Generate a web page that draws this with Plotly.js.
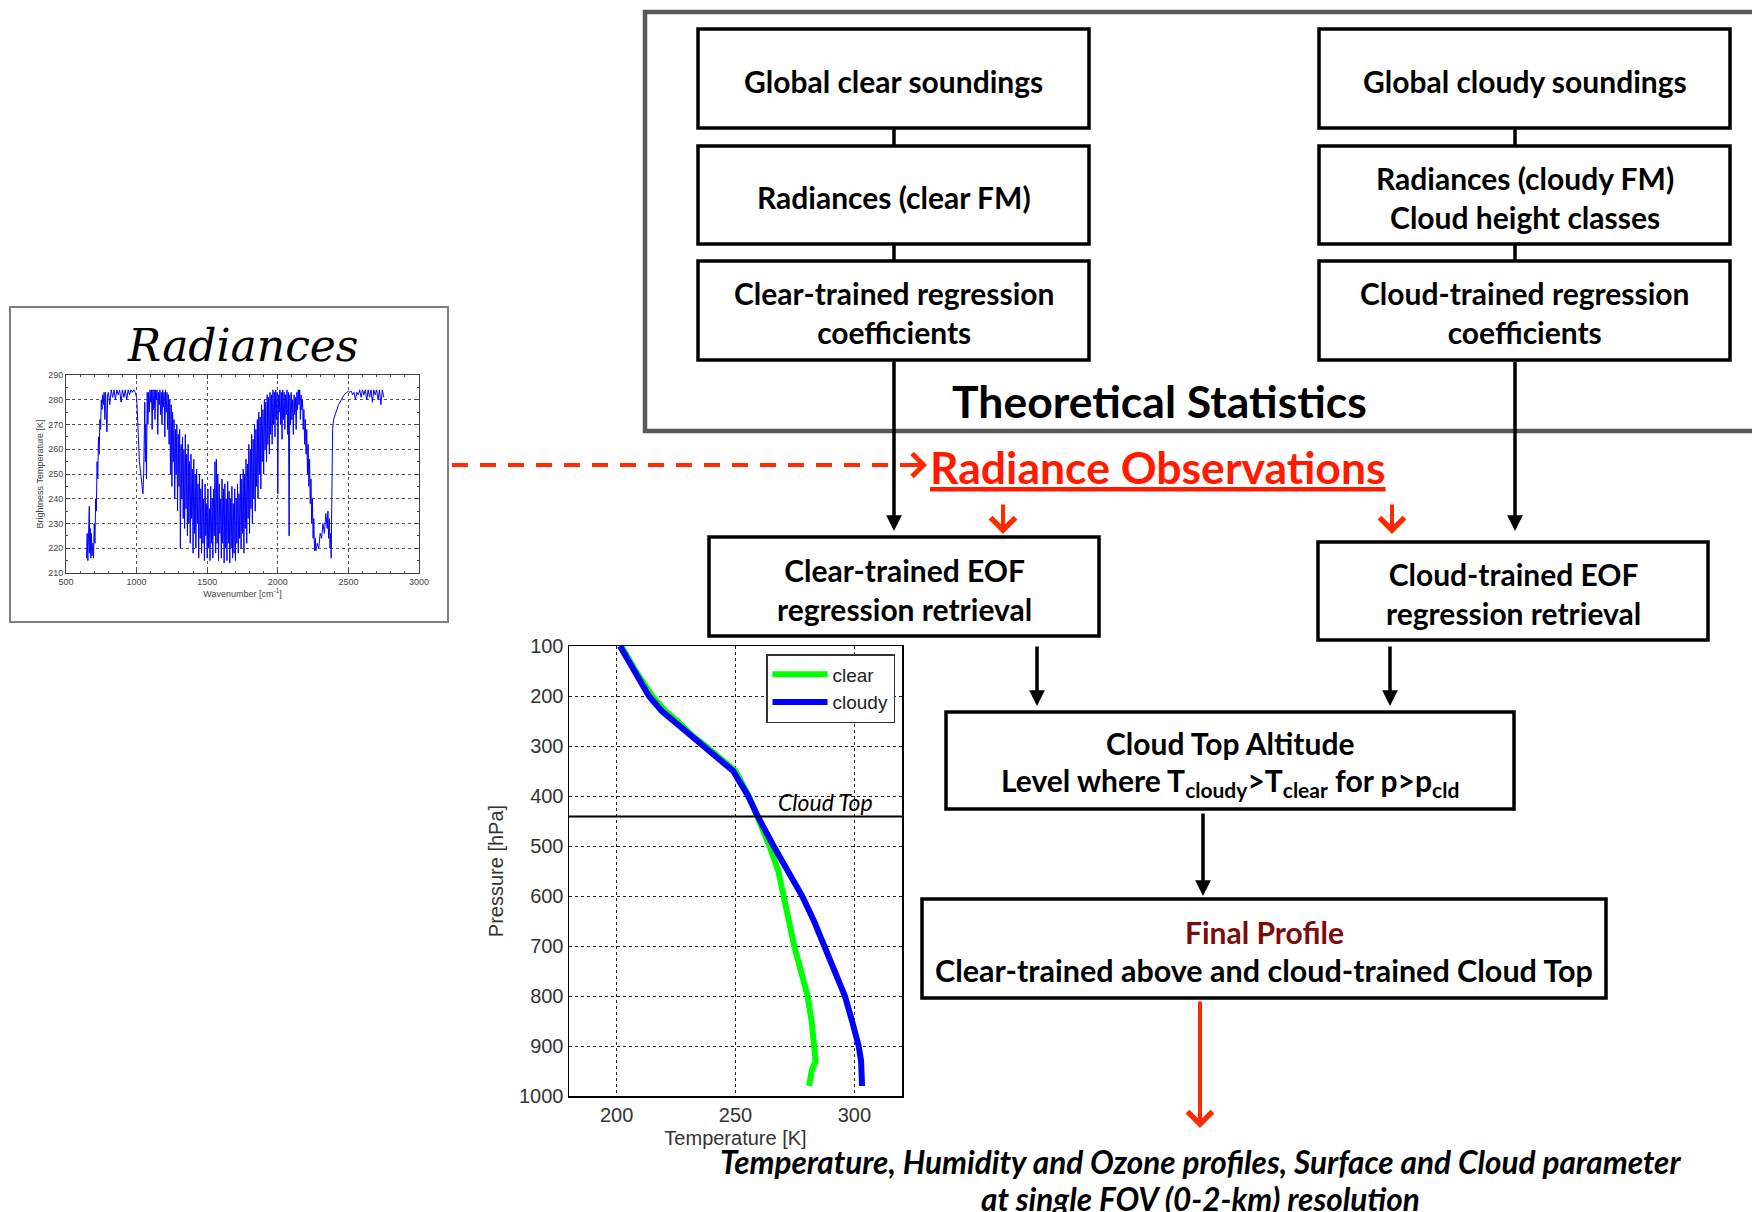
<!DOCTYPE html>
<html><head><meta charset="utf-8">
<script src="https://cdn.plot.ly/plotly-3.0.1.min.js"></script>
<style>html,body{margin:0;padding:0;background:#fff}#chart{width:1752px;height:1212px}</style>
</head><body><div id="chart"></div>
<script>
// ---------- Data: temperature profiles ----------
const pressureLevels = [100,150,200,230,250,280,300,330,350,400,441,500,550,600,650,700,750,800,850,900,930,950,980];
const clearTemp  = [202,208,215,220.5,225.5,232,237.5,244.5,250,255.6,259.2,264.3,268,270.1,272,274.7,277.5,280.3,282,283.4,283.7,282,281];
const cloudyTemp = [201.4,207.4,213.6,219,224,231,236.5,243.5,249,255.3,259.4,266,272,278,283,287.2,291.4,296,299,301.8,302.8,303,303.2];
const cloudTopPressure = 441;
const profileSeriesNames = ["clear","cloudy"];
const tempTicks = [200,250,300];
const pressTicks = [100,200,300,400,500,600,700,800,900,1000];

// ---------- Data: radiance spectrum (brightness temperature) ----------
const radWavenumber = [645,650,655,660,665,668,672,676,680,685,690,695,700,705,710,715,720,725,730,735,740,745,750,755,760,765,770,775,780,785,790,795,800,810,820,830,840,850,860,870,880,890,900,910,920,930,940,950,960,970,980,990,1000,1005,1010,1015,1020,1030,1040,1045,1050,1055,1058,1062,1065,1070,1075,1080,1085,1090,1095,1100,1105,1110,1115,1120,1125,1130,1135,1140,1145,1150,1155,1160,1165,1170,1175,1180,1185,1190,1195,1200,1205,1210,1215,1220,1225,1230,1235,1240,1245,1250,1255,1260,1265,1270,1275,1280,1285,1290,1295,1300,1305,1310,1315,1320,1325,1330,1335,1340,1345,1350,1355,1360,1365,1370,1375,1380,1385,1390,1395,1400,1405,1410,1415,1420,1425,1430,1435,1440,1445,1450,1455,1460,1465,1470,1475,1480,1485,1490,1495,1500,1505,1510,1515,1520,1525,1530,1535,1540,1545,1550,1555,1560,1565,1570,1575,1580,1585,1590,1595,1600,1605,1610,1615,1620,1625,1630,1635,1640,1645,1650,1655,1660,1665,1670,1675,1680,1685,1690,1695,1700,1705,1710,1715,1720,1725,1730,1735,1740,1745,1750,1755,1760,1765,1770,1775,1780,1785,1790,1795,1800,1805,1810,1815,1820,1825,1830,1835,1840,1845,1850,1855,1860,1865,1870,1875,1880,1885,1890,1895,1900,1905,1910,1915,1920,1925,1930,1935,1940,1945,1950,1955,1960,1965,1970,1975,1980,1985,1990,1995,2000,2005,2010,2015,2020,2025,2030,2035,2040,2045,2050,2055,2060,2065,2070,2075,2080,2085,2090,2095,2100,2105,2110,2115,2120,2125,2130,2135,2140,2145,2150,2155,2160,2165,2170,2175,2180,2185,2190,2195,2200,2205,2210,2215,2220,2225,2230,2235,2240,2245,2250,2255,2260,2265,2270,2280,2290,2300,2310,2320,2330,2340,2350,2355,2360,2365,2370,2375,2378,2382,2385,2388,2395,2410,2430,2450,2470,2490,2500,2510,2520,2530,2540,2550,2560,2570,2580,2590,2600,2610,2620,2630,2640,2650,2660,2670,2680,2690,2700,2710,2720,2730,2740,2750];
const radBrightnessT = [216,226,215,224,237,218,228,216,226,217,222,216,230,222,240,235,255,248,265,258,272,268,280,276,282,278,283,272,283,275,267,282,283,278,284,281,284,280,284,282,284,279,284,281,284,280,284,282,284,283,284,283,281,275,265,260,255,250,244,242,250,265,279,255,270,248,283,270,283,275,284,279,284,268,284,276,284,272,284,280,284,266,283,278,284,274,283,270,284,277,283,265,284,275,283,268,282,262,280,250,278,245,275,255,272,240,268,250,270,235,266,245,268,220,262,240,265,232,260,228,266,236,258,225,262,230,255,222,258,232,252,218,256,226,250,220,252,230,246,216,250,224,244,218,248,222,240,215,246,225,238,216,244,220,236,215,245,222,240,216,244,225,255,218,256,222,250,215,246,226,240,216,248,222,244,214,246,220,240,215,247,222,243,214,240,220,245,216,238,218,244,215,240,222,246,218,242,224,250,220,248,226,252,218,250,228,256,222,254,232,262,226,260,236,266,230,264,240,270,235,268,245,272,240,275,250,273,244,278,255,276,250,280,260,279,255,282,262,281,258,283,266,282,262,284,270,283,265,284,272,283,242,282,275,284,270,283,264,284,272,283,268,282,274,284,266,283,225,282,270,283,272,280,266,282,274,281,268,283,276,284,278,284,272,282,276,280,268,276,262,272,258,268,250,262,245,256,238,248,230,240,224,232,219,224,219,222,220,226,224,230,226,234,228,235,224,232,220,226,216,235,260,268,272,275,278,280,282,283,283.5,283,283.5,282,283,280,283,282,284,281,284,282,284,280,284,281,284,279,284,282,284,280,284,278,284,281];
const radXTicks = [500,1000,1500,2000,2500,3000];
const radYTicks = [210,220,230,240,250,260,270,280,290];

// ---------- Diagram texts ----------
const boxTexts = {
  clearSound: "Global clear soundings",
  cloudySound: "Global cloudy soundings",
  clearRad: "Radiances (clear FM)",
  cloudyRad: "Radiances (cloudy FM)<br>Cloud height classes",
  clearCoef: "Clear-trained regression<br>coefficients",
  cloudCoef: "Cloud-trained regression<br>coefficients",
  clearEOF: "Clear-trained EOF<br>regression retrieval",
  cloudEOF: "Cloud-trained EOF<br>regression retrieval",
  ctaTitle: "Cloud Top Altitude",
  ctaLine: "Level where T<sub>cloudy</sub>&gt;T<sub>clear</sub> for p&gt;p<sub>cld</sub>",
  finalTitle: "Final Profile",
  finalLine: "Clear-trained above and cloud-trained Cloud Top",
  theo: "Theoretical Statistics",
  radObs: "Radiance Observations",
  bottom1: "Temperature, Humidity and Ozone profiles, Surface and Cloud parameter",
  bottom2: "at single FOV (0-2-km) resolution",
  radTitle: "Radiances",
  cloudTopLabel: "Cloud Top"
};

// ---------- Layout helpers (pixel -> paper) ----------
const W = 1752, H = 1212;
const X = p => p / W;
const Y = p => 1 - p / H;
const FONT = "Lato, 'Open Sans', sans-serif";
const RED = "#ff2a00";
const BOXF = 30;

const traces = [
  {x: clearTemp, y: pressureLevels, type: "scatter", mode: "lines", name: profileSeriesNames[0],
   line: {color: "#00ff00", width: 6}, xaxis: "x", yaxis: "y"},
  {x: cloudyTemp, y: pressureLevels, type: "scatter", mode: "lines", name: profileSeriesNames[1],
   line: {color: "#0000ff", width: 6}, xaxis: "x", yaxis: "y"},
  {x: radWavenumber, y: radBrightnessT, type: "scatter", mode: "lines", showlegend: false,
   line: {color: "#0000ff", width: 1}, xaxis: "x2", yaxis: "y2"}
];

function rect(x0, y0, x1, y1, color, width) {
  return {type: "rect", xref: "paper", yref: "paper", x0: X(x0), x1: X(x1), y0: Y(y1), y1: Y(y0),
          line: {color: color || "#000", width: width || 3.5}, fillcolor: "rgba(255,255,255,0)", layer: "above"};
}
function line(x0, y0, x1, y1, color, width, dash) {
  return {type: "line", xref: "paper", yref: "paper", x0: X(x0), x1: X(x1), y0: Y(y0), y1: Y(y1),
          line: {color: color || "#000", width: width || 3.5, dash: dash || "solid"}, layer: "above"};
}
function txt(x, y, text, size, opts) {
  opts = opts || {};
  return Object.assign({xref: "paper", yref: "paper", x: X(x), y: Y(y), text: text, showarrow: false,
    xanchor: "center", yanchor: "middle",
    font: Object.assign({family: FONT, size: size, color: "#000", weight: 700}, opts.font || {})}, opts.extra || {});
}
function arrow(x, y0, y1, color, width, head, size) {
  // vertical arrow from y0 (tail) to y1 (head)
  return {xref: "paper", yref: "paper", x: X(x), y: Y(y1), ax: 0, ay: -(y1 - y0), text: "", showarrow: true,
    arrowcolor: color, arrowwidth: width, arrowhead: head, arrowsize: size, standoff: 0, startstandoff: 0};
}

const shapes = [
  rect(645, 12, 1775, 431, "#595959", 4.5),
  rect(698, 29, 1089, 128), rect(698, 146, 1089, 244), rect(698, 261, 1089, 360),
  rect(1319, 29, 1730, 128), rect(1319, 146, 1730, 244), rect(1319, 261, 1730, 360),
  line(894, 128, 894, 146), line(894, 244, 894, 261),
  line(1515, 128, 1515, 146), line(1515, 244, 1515, 261),
  rect(709, 537, 1099, 636), rect(1318, 542, 1708, 640),
  rect(946, 712, 1514, 809), rect(922, 899, 1606, 998),
  rect(10, 307, 448, 622, "#7f7f7f", 2),
  line(452, 465, 918, 465, RED, 4, "16px,12px"),
  {type: "line", xref: "x domain", yref: "y", x0: 0, x1: 1, y0: cloudTopPressure, y1: cloudTopPressure,
   line: {color: "#000", width: 2}, layer: "above"}
];

const annotations = [
  txt(893.5, 81, boxTexts.clearSound, BOXF),
  txt(893.5, 197, boxTexts.clearRad, BOXF),
  txt(893.5, 312, boxTexts.clearCoef, BOXF),
  txt(1524.5, 81, boxTexts.cloudySound, BOXF),
  txt(1524.5, 197, boxTexts.cloudyRad, BOXF),
  txt(1524.5, 312, boxTexts.cloudCoef, BOXF),
  txt(1159, 401, boxTexts.theo, 44.5),
  txt(1158, 466, boxTexts.radObs, 44.5, {font: {color: "#ff1a00", lineposition: "under"}}),
  txt(904, 589, boxTexts.clearEOF, BOXF),
  txt(1513, 593, boxTexts.cloudEOF, BOXF),
  txt(1230, 743, boxTexts.ctaTitle, BOXF),
  txt(1230, 782, boxTexts.ctaLine, BOXF),
  txt(1264, 932, boxTexts.finalTitle, BOXF, {font: {color: "#7b0c0c"}}),
  txt(1264, 970, boxTexts.finalLine, 30.5),
  txt(1200, 1162, boxTexts.bottom1, 31.5, {font: {style: "italic"}}),
  txt(1200, 1199, boxTexts.bottom2, 31.5, {font: {style: "italic"}}),
  txt(242, 345, boxTexts.radTitle, 44, {font: {family: "'DejaVu Serif', serif", style: "italic", weight: 400}}),
  txt(825, 802, boxTexts.cloudTopLabel, 23, {font: {style: "italic", weight: 400}}),
  // arrows
  arrow(894, 360, 531, "#000", 3.5, 2, 0.9),
  arrow(1515, 360, 531, "#000", 3.5, 2, 0.9),
  arrow(1003, 503, 534, RED, 4, 4, 1.2),
  arrow(1392, 503, 534, RED, 4, 4, 1.2),
  arrow(1037, 645, 706, "#000", 3.5, 2, 0.9),
  arrow(1390, 645, 706, "#000", 3.5, 2, 0.9),
  arrow(1203, 812, 896, "#000", 3.5, 2, 0.9),
  arrow(1200, 1000, 1128, RED, 4, 4, 1.2),
  {xref: "paper", yref: "paper", x: X(927), y: Y(465), ax: -14, ay: 0, text: "", showarrow: true,
   arrowcolor: RED, arrowwidth: 4, arrowhead: 4, arrowsize: 1.1, standoff: 0}
];

const profTick = {family: "'Liberation Sans', Arial, sans-serif", size: 20, color: "#333"};
const radTick = {family: "'Liberation Sans', Arial, sans-serif", size: 9, color: "#444"};

const layout = {
  width: W, height: H, autosize: false,
  margin: {l: 0, r: 0, t: 0, b: 0},
  paper_bgcolor: "#fff", plot_bgcolor: "#fff",
  showlegend: true,
  legend: {x: X(895), xanchor: "right", y: Y(654), yanchor: "top", bgcolor: "#fff",
           bordercolor: "#333", borderwidth: 1.5, font: {family: profTick.family, size: 19, color: "#222"},
           itemwidth: 55, tracegroupgap: 0},
  xaxis: {domain: [X(569), X(902)], anchor: "y", range: [180, 320], tickvals: tempTicks,
          showgrid: true, gridcolor: "#222", griddash: "dot", gridwidth: 1, zeroline: false,
          showline: true, mirror: true, linecolor: "#000", linewidth: 1.5, ticks: "",
          tickfont: profTick, title: {text: "Temperature [K]", font: profTick, standoff: 6}},
  yaxis: {domain: [Y(1096), Y(646)], anchor: "x", range: [1000, 100], tickvals: pressTicks,
          showgrid: true, gridcolor: "#222", griddash: "dot", gridwidth: 1, zeroline: false,
          showline: true, mirror: true, linecolor: "#000", linewidth: 1.5, ticks: "",
          tickfont: profTick, title: {text: "Pressure [hPa]", font: profTick, standoff: 10}},
  xaxis2: {domain: [X(66), X(419)], anchor: "y2", range: [500, 3000], tickvals: radXTicks,
           showgrid: true, gridcolor: "#555", griddash: "dot", gridwidth: 1, zeroline: false,
           showline: true, mirror: "ticks", linecolor: "#444", linewidth: 1, ticks: "inside", ticklen: 4,
           tickcolor: "#444", minor: {ticks: "inside", ticklen: 2, dtick: 100, tickcolor: "#444", showgrid: false},
           tickfont: radTick, title: {text: "Wavenumber [cm<sup>-1</sup>]", font: radTick, standoff: 2}},
  yaxis2: {domain: [Y(573), Y(375)], anchor: "x2", range: [210, 290], tickvals: radYTicks,
           showgrid: true, gridcolor: "#555", griddash: "dot", gridwidth: 1, zeroline: false,
           showline: true, mirror: "ticks", linecolor: "#444", linewidth: 1, ticks: "inside", ticklen: 4,
           tickcolor: "#444", minor: {ticks: "inside", ticklen: 2, dtick: 5, tickcolor: "#444", showgrid: false},
           tickfont: radTick, title: {text: "Brightness Temperature [K]", font: radTick, standoff: 3}},
  shapes: shapes,
  annotations: annotations
};

Plotly.newPlot("chart", traces, layout, {staticPlot: true, displayModeBar: false});
</script>
</body></html>
